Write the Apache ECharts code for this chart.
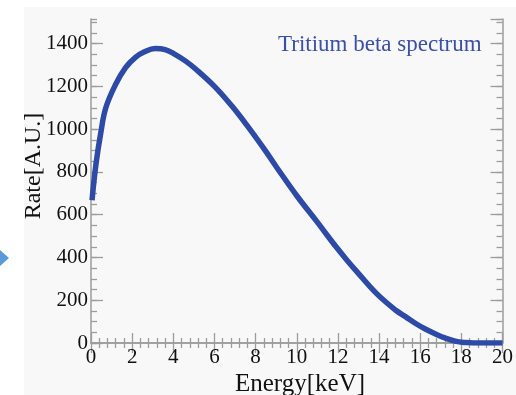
<!DOCTYPE html>
<html>
<head>
<meta charset="utf-8">
<script src="https://cdn.jsdelivr.net/npm/echarts@6/dist/echarts.min.js"></script>
<style>
html,body{margin:0;padding:0;background:#fff;}
#c{width:516px;height:395px;}
</style>
</head>
<body>
<div id="c"></div>
<script>
// Data
const energy = [0.05, 0.24, 0.48, 0.72, 1.2, 1.68, 2.16, 2.6, 3.12, 3.6, 4.08, 4.6, 5.1, 6.0, 6.83, 7.6, 8.43, 9.07, 10.03, 11.0, 11.47, 11.95, 12.4, 12.91, 13.87, 14.83, 15.3, 15.8, 16.27, 16.8, 17.2, 17.7, 18.2, 18.6, 19.3, 20.0];
const rate   = [668, 835, 985, 1100, 1210, 1288, 1336, 1362, 1377, 1372, 1350, 1318, 1280, 1200, 1110, 1015, 905, 815, 685, 565, 505, 445, 392, 335, 232, 152, 122, 90, 64, 40, 24, 9, 2, 0, 0, 0];
const xTicks = [0, 2, 4, 6, 8, 10, 12, 14, 16, 18, 20];
const yTicks = [0, 200, 400, 600, 800, 1000, 1200, 1400];
const seriesName = 'Tritium beta spectrum';
const xTitle = 'Energy[keV]';
const yTitle = 'Rate[A.U.]';

const serif = "'Liberation Serif','DejaVu Serif',serif";
const axisGrey = '#9c9c9c';
const yMax = 1515;

const chart = echarts.init(document.getElementById('c'), null, {renderer: 'canvas'});

function yAxisDef(pos, major, labels) {
  return {
    type: 'value', position: pos, min: 0, max: yMax,
    interval: major ? 200 : 50,
    axisLine: {show: major, lineStyle: {color: axisGrey, width: 1.5}},
    axisTick: {show: true, inside: true, length: major ? 12 : 6, lineStyle: {color: axisGrey, width: 1.3}},
    axisLabel: {
      show: labels, showMaxLabel: false, margin: 3,
      fontFamily: serif, fontSize: 21, color: '#111',
      formatter: v => (yTicks.indexOf(v) >= 0 ? String(v) : '')
    },
    splitLine: {show: false}
  };
}
function xAxisDef(pos, labels) {
  return {
    type: 'value', position: pos, min: 0, max: 20, interval: 2,
    axisLine: {show: true, lineStyle: {color: axisGrey, width: 1.5}},
    axisTick: {show: true, inside: true, length: 10, lineStyle: {color: axisGrey, width: 1.3}},
    minorTick: {show: true, splitNumber: 5, length: 5, lineStyle: {color: axisGrey, width: 1.3}},
    axisLabel: {
      show: labels, margin: 4, fontFamily: serif, fontSize: 21, color: '#111',
      formatter: v => (xTicks.indexOf(v) >= 0 ? String(v) : '')
    },
    splitLine: {show: false}
  };
}

chart.setOption({
  animation: false,
  backgroundColor: '#ffffff',
  grid: {left: 91, right: 8, top: 19, bottom: 52, containLabel: false},
  xAxis: [xAxisDef('bottom', true), xAxisDef('top', false)],
  yAxis: [yAxisDef('left', true, true), yAxisDef('left', false, false), yAxisDef('right', true, false), yAxisDef('right', false, false)],
  graphic: [
    {type: 'rect', z: -10, silent: true, shape: {x: 24, y: 7, width: 520, height: 400}, style: {fill: '#f8f8f8'}},
    {type: 'polygon', z: 10, silent: true, shape: {points: [[0, 250], [9, 258], [0, 266]]}, style: {fill: '#5b9ad6'}},
    {type: 'text', x: 278, y: 45, z: 10, style: {text: seriesName, fontFamily: serif, fontSize: 23, fill: '#3a4fa8', align: 'left', verticalAlign: 'middle'}},
    {type: 'text', x: 300, y: 384, z: 10, style: {text: xTitle, fontFamily: serif, fontSize: 25, fill: '#111', align: 'center', verticalAlign: 'middle'}},
    {type: 'text', x: 34, y: 166, rotation: Math.PI / 2, z: 10, style: {text: yTitle, fontFamily: serif, fontSize: 24, fill: '#111', align: 'center', verticalAlign: 'middle'}}
  ],
  series: [{
    type: 'line', name: seriesName, xAxisIndex: 0, yAxisIndex: 0,
    data: energy.map((e, i) => [e, rate[i]]),
    smooth: 0.4, showSymbol: false, clip: true,
    lineStyle: {color: '#2c4aa6', width: 5.5}
  }]
});
</script>
</body>
</html>
